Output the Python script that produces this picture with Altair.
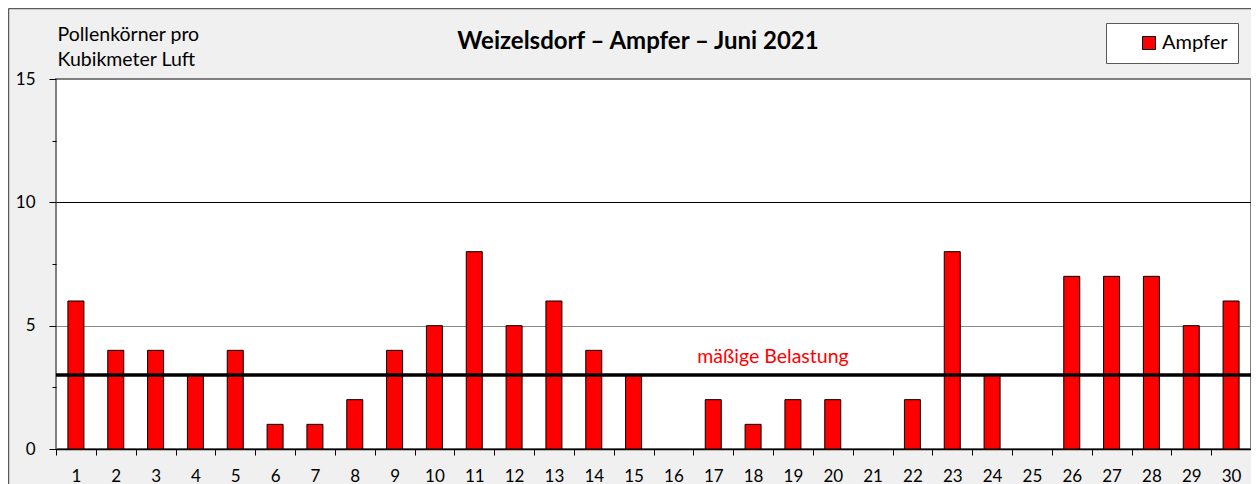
import altair as alt
import pandas as pd

# ---- data ----
days = list(range(1, 31))
values = [6, 4, 4, 3, 4, 1, 1, 2, 4, 5, 8, 5, 6, 4, 3, 0, 2, 1, 2, 2, 0, 2, 8, 3, 0, 7, 7, 7, 5, 6]
series_name = "Ampfer"
threshold_value = 3
threshold_label = "mäßige Belastung"
threshold_label_x = 18.5
chart_title = "Weizelsdorf – Ampfer – Juni 2021"
y_title = ["Pollenkörner pro", "Kubikmeter Luft"]
y_ticks = [0, 2.5, 5, 7.5, 10, 12.5, 15]
x_tick_bounds = [d - 0.5 for d in days] + [30.5]

FONT = "Lato"
W, H = 1195, 370

df = pd.DataFrame({"day": days, "value": values, "series": series_name})

xscale = alt.Scale(domain=[0.5, 30.5], nice=False, zero=False, padding=0)
yscale = alt.Scale(domain=[0, 15], nice=False, padding=0)

x_label_axis = alt.Axis(
    orient="bottom",
    values=days, format="d",
    ticks=False,
    domain=True, domainColor="black", domainWidth=1.5,
    grid=False, title=None,
    labelFont=FONT, labelFontSize=17, labelColor="black", labelPadding=19,
    labelFlush=False, labelOverlap=False,
)

x_tick_axis = alt.Axis(
    orient="bottom",
    values=x_tick_bounds,
    labels=False,
    ticks=True, tickSize=6, tickColor="black", tickWidth=1,
    domain=False, grid=False, title=None,
)

y_axis = alt.Axis(
    values=y_ticks,
    labelExpr="datum.value % 5 == 0 ? datum.label : ''",
    tickSize=alt.condition("datum.value % 5 == 0", alt.value(7), alt.value(4)),
    tickColor="black", tickWidth=1,
    domain=False,
    grid=True,
    gridColor=alt.condition("datum.value == 10", alt.value("black"), alt.value("#8a8a8a")),
    gridOpacity=alt.condition("datum.value == 5 || datum.value == 10", alt.value(1), alt.value(0)),
    gridWidth=1,
    labelFont=FONT, labelFontSize=17, labelColor="black", labelPadding=14,
    labelOverlap=False,
    title=y_title, titleAngle=0, titleAlign="left", titleBaseline="alphabetic",
    titleX=1, titleY=-39, titleLineHeight=25.5,
    titleFont=FONT, titleFontSize=19.5, titleFontWeight="normal", titleColor="black",
)

bars = alt.Chart(df).transform_filter("datum.value > 0").mark_bar(
    size=16, stroke="black", strokeWidth=1
).encode(
    x=alt.X("day:Q", scale=xscale, axis=x_label_axis),
    y=alt.Y("value:Q", scale=yscale, axis=y_axis),
    color=alt.Color(
        "series:N",
        scale=alt.Scale(domain=[series_name], range=["#ff0000"]),
        legend=alt.Legend(
            title=None, orient="none", legendX=1050, legendY=-56,
            padding=10, symbolOffset=23, symbolType="square", symbolSize=169,
            symbolStrokeColor="black", symbolStrokeWidth=1, symbolFillColor="#ff0000",
            labelFont=FONT, labelFontSize=20, labelColor="black", labelOffset=3,
            fillColor="white", strokeColor="#595959", cornerRadius=0,
        ),
    ),
)

thr_df = pd.DataFrame({"y": [threshold_value], "x": [threshold_label_x], "label": [threshold_label]})

thr_rule = alt.Chart(thr_df).mark_rule(color="black", strokeWidth=3.5).encode(
    y=alt.Y("y:Q", scale=yscale)
)

# threshold label; this layer also carries the tick-only x axis (ticks at day boundaries)
thr_text = alt.Chart(thr_df).mark_text(
    color="#ff0000", font=FONT, fontSize=19.5, baseline="alphabetic", align="center", dy=-12
).encode(
    x=alt.X("x:Q", scale=xscale, axis=x_tick_axis),
    y=alt.Y("y:Q", scale=yscale),
    text="label:N",
)

title_df = pd.DataFrame({"t": [chart_title]})
title_text = alt.Chart(title_df).mark_text(
    font=FONT, fontSize=24, fontWeight="bold", color="black", align="center", baseline="alphabetic"
).encode(x=alt.value(582), y=alt.value(-30), text="t:N")

frame_df = pd.DataFrame({"k": [0]})
frame_left = alt.Chart(frame_df).mark_rule(color="#5b5b5b", strokeWidth=1.5).encode(
    x=alt.value(-47.5), y=alt.value(-70.5), y2=alt.value(H + 40)
)
frame_top = alt.Chart(frame_df).mark_rule(color="#5b5b5b", strokeWidth=1.5).encode(
    x=alt.value(-47.5), x2=alt.value(W + 20), y=alt.value(-70.5)
)

chart = alt.layer(
    bars, thr_rule, thr_text, title_text, frame_left, frame_top
).resolve_axis(
    x="independent"
).properties(
    width=W, height=H,
    padding={"left": 48, "top": 71, "right": 0, "bottom": 35},
    autosize=alt.AutoSizeParams(type="none"),
    background="#f0f0f0",
).configure_view(
    fill="white", stroke="#7f7f7f", strokeWidth=2
)

chart.save("out.html", embed_options={"renderer": "svg", "actions": False})
